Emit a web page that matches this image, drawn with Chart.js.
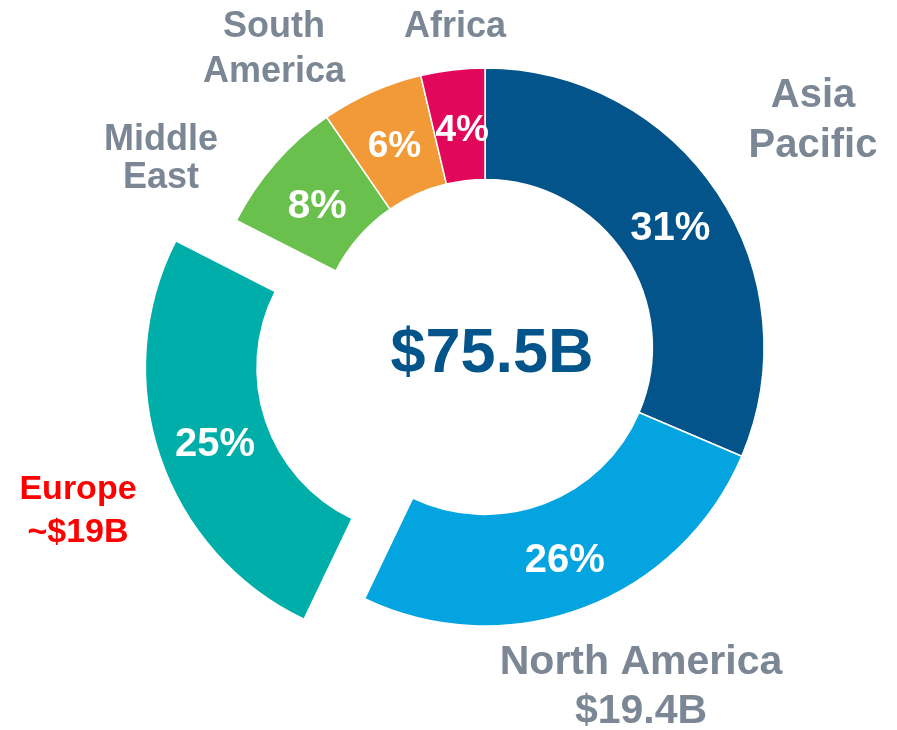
<!DOCTYPE html>
<html><head><meta charset="utf-8">
<script src="https://cdn.jsdelivr.net/npm/chart.js@4"></script>
<style>html,body{margin:0;padding:0;background:#fff;overflow:hidden}</style>
</head><body>
<canvas id="c" width="897" height="730"></canvas>
<script>
// ---- data (segment sizes; labels as printed) ----
const regions = ['Asia Pacific', 'North America', 'Europe', 'Middle East', 'South America', 'Africa'];
const shares = [31.4, 25.7, 25.4, 7.9, 5.9, 3.7];
const percentLabels = ['31%', '26%', '25%', '8%', '6%', '4%'];
const outsideLabels = [['Asia', 'Pacific'], ['North America', '$19.4B'], ['Europe', '~$19B'], ['Middle', 'East'], ['South', 'America'], ['Africa']];
const totalLabel = '$75.5B';

// ---- styles ----
const colors = ['#02548B', '#04A4E0', '#00AEA9', '#6AC04C', '#F29A37', '#E1075A'];
const offsets = [0, 0, 256, 0, 0, 0];
const GRAY = '#7B8794';
const FONT = '"Liberation Sans", Arial, Helvetica, sans-serif';
const pctSizes = [40, 40, 40, 41, 37, 37];
const pctNudge = [[-1, 2], [1, 2], [2, 3], [0, 3], [0, 1], [3, 2]];
// outside label layout relative to chart centre: dx (text centre), dy (first baseline), line height, size, colour
const outLayout = [
  {dx: 328, dy: -240, lh: 50, size: 40, color: GRAY},
  {dx: 156, dy: 327, lh: 49, size: 41, color: GRAY},
  {dx: -407, dy: 152, lh: 43, size: 34, color: '#FF0000'},
  {dx: -324, dy: -197, lh: 38, size: 36, color: GRAY},
  {dx: -211, dy: -310, lh: 45, size: 36, color: GRAY},
  {dx: -30, dy: -310, lh: 45, size: 36, color: GRAY}
];

const labelPlugin = {
  id: 'labels',
  afterDraw(chart) {
    const ctx = chart.ctx;
    const meta = chart.getDatasetMeta(0);
    const cx = meta.data[0].x, cy = meta.data[0].y;
    ctx.save();
    ctx.textAlign = 'center';
    ctx.textBaseline = 'alphabetic';
    meta.data.forEach((arc, i) => {
      const half = (arc.startAngle + arc.endAngle) / 2;
      const rMid = (arc.innerRadius + arc.outerRadius) / 2 + (offsets[i] || 0) / 4;
      const x = arc.x + Math.cos(half) * rMid + pctNudge[i][0];
      const y = arc.y + Math.sin(half) * rMid + pctNudge[i][1];
      ctx.fillStyle = '#FFFFFF';
      ctx.font = 'bold ' + pctSizes[i] + 'px ' + FONT;
      ctx.fillText(percentLabels[i], x, y + pctSizes[i] * 0.358);
      const L = outLayout[i];
      ctx.fillStyle = L.color;
      ctx.font = 'bold ' + L.size + 'px ' + FONT;
      outsideLabels[i].forEach((line, k) => {
        ctx.fillText(line, cx + L.dx, cy + L.dy + k * L.lh);
      });
    });
    ctx.fillStyle = '#02548B';
    ctx.font = 'bold 63px ' + FONT;
    ctx.fillText(totalLabel, cx + 7, cy + 25);
    ctx.restore();
  }
};

new Chart(document.getElementById('c'), {
  type: 'doughnut',
  data: {
    labels: regions,
    datasets: [{
      data: shares,
      backgroundColor: colors,
      borderColor: '#FFFFFF',
      borderWidth: 1.5,
      offset: offsets,
      hoverOffset: 0
    }]
  },
  options: {
    responsive: false,
    animation: false,
    radius: 279,
    cutout: '60%',
    layout: {padding: {left: 73, right: 0, top: 0, bottom: 36}},
    plugins: {legend: {display: false}, tooltip: {enabled: false}}
  },
  plugins: [labelPlugin]
});
</script>
</body></html>
